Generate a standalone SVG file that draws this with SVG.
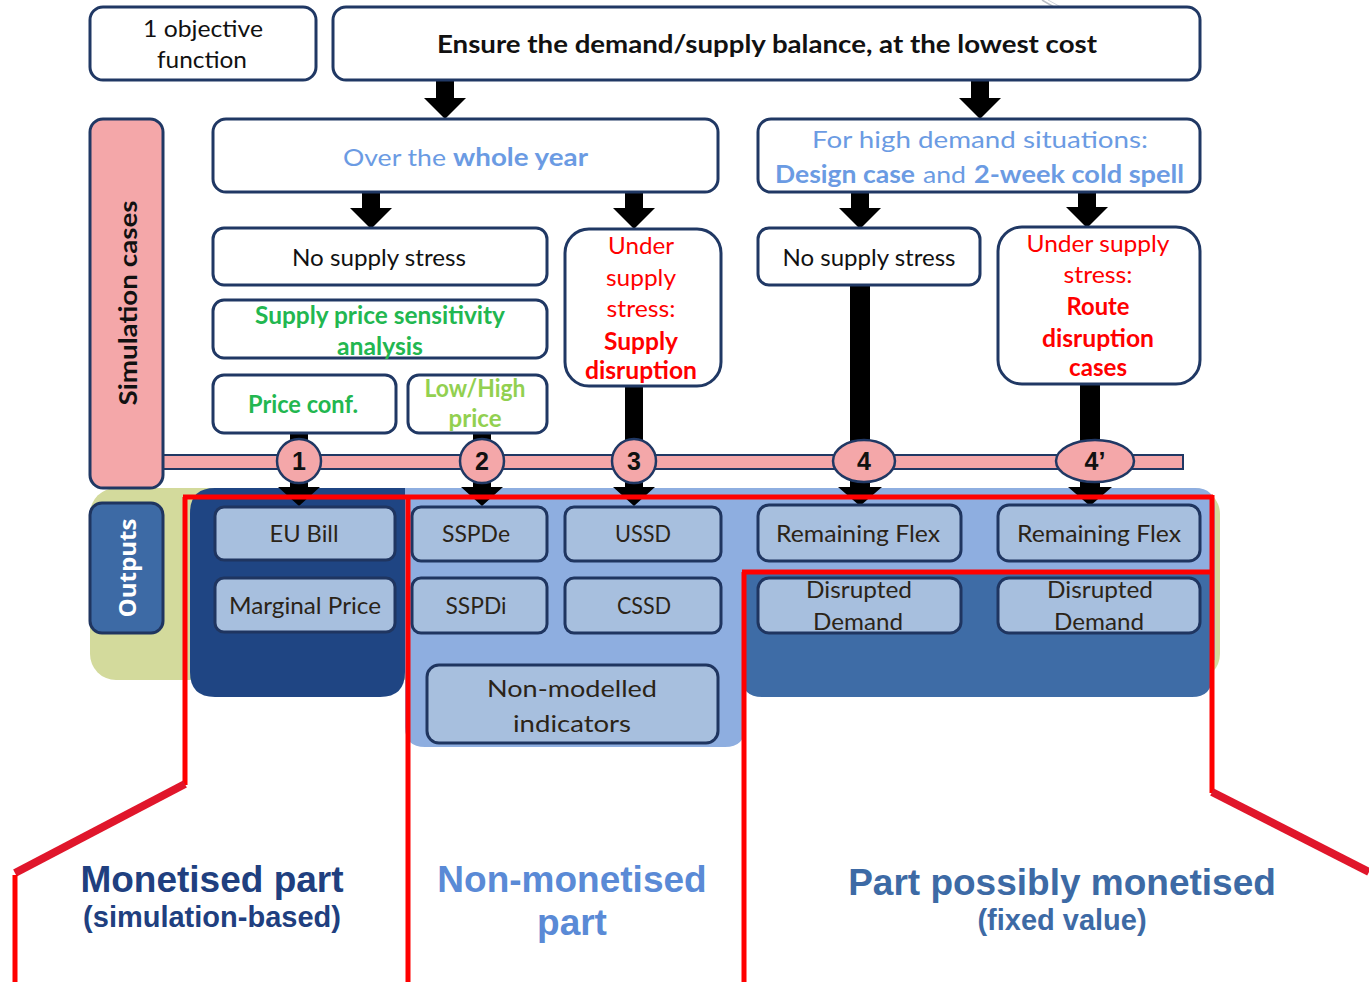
<svg xmlns="http://www.w3.org/2000/svg" width="1369" height="993" viewBox="0 0 1369 993">
<defs>
<style>
.box{fill:#ffffff;stroke:#203864;stroke-width:3}
.ob{fill:#a7bfde;stroke:#1f3560;stroke-width:3}
.t{font-family:Lato,"Open Sans",sans-serif;font-size:24px;fill:#111;text-anchor:middle}
.ot{font-family:Lato,"Open Sans",sans-serif;font-size:24px;fill:#2b2418;text-anchor:middle}
.s{text-anchor:start}
.e{text-anchor:end}
.b{font-weight:bold}
.blue{fill:#6b9be3}
.green{fill:#22b750}
.lgreen{fill:#92d050}
.red{fill:#ff0000}
.num{font-family:"Liberation Sans",Arial,sans-serif;font-size:25px;font-weight:bold;fill:#111;text-anchor:middle}
.arr{fill:#000}
.circ{fill:#f4a7a9;stroke:#203864;stroke-width:2.5}
.rl{fill:none;stroke:#ff0000;stroke-width:5}
.rd{fill:none;stroke:#e0162b;stroke-width:8}
.big{font-family:"Liberation Sans",Arial,sans-serif;font-weight:bold;text-anchor:middle}
</style>
</defs>

<!-- faint artifact lines -->
<line x1="1042" y1="0" x2="1066" y2="14" stroke="#b8bcc4" stroke-width="1.5"/>
<line x1="1048" y1="0" x2="1070" y2="12" stroke="#cfd3da" stroke-width="1"/>

<!-- output backgrounds -->
<g id="output-background">
<rect x="90" y="488" width="1130" height="192" rx="26" fill="#d3da9c"/>
<path d="M405 488 H1195 Q1215 488 1215 508 V660 H745 V727 Q745 747 725 747 H425 Q405 747 405 727 Z" fill="#8eaee0"/>
<path d="M742 570 H1212 V677 Q1212 697 1192 697 H762 Q742 697 742 677 Z" fill="#3e6ca6"/>
<path d="M215 488 H405 V672 Q405 697 380 697 H215 Q190 697 190 672 V513 Q190 488 215 488 Z" fill="#1f4583"/>
</g>

<!-- connectors -->
<g id="connectors">
<path class="arr" d="M436 80 H454 V98 H466 L445 119 L424 98 H436 Z"/>
<path class="arr" d="M971 80 H989 V98 H1001 L980 119 L959 98 H971 Z"/>
<path class="arr" d="M362 192 H380 V208 H392 L371 229 L350 208 H362 Z"/>
<path class="arr" d="M625 192 H643 V208 H655 L634 229 L613 208 H625 Z"/>
<path class="arr" d="M851 192 H869 V208 H881 L860 229 L839 208 H851 Z"/>
<path class="arr" d="M1078 192 H1096 V207 H1108 L1087 228 L1066 207 H1078 Z"/>
<path class="arr" d="M290 433 H308 V487 H320 L299 506 L278 487 H290 Z"/>
<path class="arr" d="M473 433 H491 V487 H503 L482 506 L461 487 H473 Z"/>
<path class="arr" d="M625 386 H643 V487 H655 L634 506 L613 487 H625 Z"/>
<path class="arr" d="M850 285 H870 V487 H882 L860 506 L838 487 H850 Z"/>
<path class="arr" d="M1080 384 H1100 V487 H1112 L1090 506 L1068 487 H1080 Z"/>
</g>

<!-- pink bar -->
<g id="timeline">
<rect x="160" y="455" width="1023" height="14" fill="#f4a7a9" stroke="#203864" stroke-width="2"/>
</g>

<g id="sim-cases">
<rect x="90" y="119" width="73" height="369" rx="13" fill="#f4a7a9" stroke="#203864" stroke-width="3"/>
<text class="t b" transform="translate(137,303) rotate(-90)" font-size="25" textLength="205" lengthAdjust="spacingAndGlyphs">Simulation cases</text>
</g>

<g id="circles">
<circle class="circ" cx="299" cy="461" r="22"/><text class="num" x="299" y="470">1</text>
<circle class="circ" cx="482" cy="461" r="22"/><text class="num" x="482" y="470">2</text>
<circle class="circ" cx="634" cy="461" r="22"/><text class="num" x="634" y="470">3</text>
<ellipse class="circ" cx="864" cy="461" rx="31" ry="21"/><text class="num" x="864" y="470">4</text>
<ellipse class="circ" cx="1095" cy="461" rx="39" ry="21"/><text class="num" x="1095" y="470">4’</text>
</g>

<g id="objective">
<rect class="box" x="90" y="7" width="226" height="73" rx="13"/>
<text class="t" x="203" y="37" textLength="120" lengthAdjust="spacingAndGlyphs">1 objective</text>
<text class="t" x="202" y="68" textLength="90" lengthAdjust="spacingAndGlyphs">function</text>
</g>

<g id="ensure">
<rect class="box" x="333" y="7" width="867" height="73" rx="13"/>
<text class="t b" x="767" y="53" font-size="25" textLength="660" lengthAdjust="spacingAndGlyphs">Ensure the demand/supply balance, at the lowest cost</text>
</g>

<g id="whole-year">
<rect class="box" x="213" y="119" width="505" height="73" rx="13"/>
<text class="t s blue" x="343" y="166" font-size="28" textLength="103" lengthAdjust="spacingAndGlyphs">Over the</text>
<text class="t e blue b" x="588" y="166" font-size="28" textLength="135" lengthAdjust="spacingAndGlyphs">whole year</text>
</g>

<g id="high-demand">
<rect class="box" x="758" y="119" width="442" height="73" rx="13"/>
<text class="t blue" x="980" y="148" font-size="28" textLength="336" lengthAdjust="spacingAndGlyphs">For high demand situations:</text>
<text class="t s blue b" x="775" y="183" font-size="28" textLength="140" lengthAdjust="spacingAndGlyphs">Design case</text>
<text class="t s blue" x="923" y="183" font-size="28" textLength="43" lengthAdjust="spacingAndGlyphs">and</text>
<text class="t s blue b" x="974" y="183" font-size="28" textLength="210" lengthAdjust="spacingAndGlyphs">2-week cold spell</text>
</g>

<g id="no-stress-1">
<rect class="box" x="213" y="228" width="334" height="57" rx="11"/>
<text class="t" x="379" y="266" textLength="174" lengthAdjust="spacingAndGlyphs">No supply stress</text>
</g>

<g id="sensitivity">
<rect class="box" x="213" y="300" width="334" height="58" rx="11"/>
<text class="t b green" x="380" y="324" textLength="250" lengthAdjust="spacingAndGlyphs">Supply price sensitivity</text>
<text class="t b green" x="380" y="355" textLength="86" lengthAdjust="spacingAndGlyphs">analysis</text>
</g>

<g id="price-conf">
<rect class="box" x="213" y="375" width="183" height="58" rx="11"/>
<text class="t b green" x="303" y="413" textLength="110" lengthAdjust="spacingAndGlyphs">Price conf.</text>
</g>

<g id="low-high">
<rect class="box" x="408" y="375" width="139" height="58" rx="11"/>
<text class="t b lgreen" x="475" y="397" textLength="101" lengthAdjust="spacingAndGlyphs">Low/High</text>
<text class="t b lgreen" x="475" y="427" textLength="53" lengthAdjust="spacingAndGlyphs">price</text>
</g>

<g id="supply-disruption">
<rect class="box" x="565" y="229" width="156" height="157" rx="24"/>
<text class="t red" x="641" y="254" textLength="66" lengthAdjust="spacingAndGlyphs">Under</text>
<text class="t red" x="641" y="286" textLength="70" lengthAdjust="spacingAndGlyphs">supply</text>
<text class="t red" x="641" y="317" textLength="69" lengthAdjust="spacingAndGlyphs">stress:</text>
<text class="t b red" x="641" y="350" textLength="74" lengthAdjust="spacingAndGlyphs">Supply</text>
<text class="t b red" x="641" y="379" textLength="112" lengthAdjust="spacingAndGlyphs">disruption</text>
</g>

<g id="no-stress-2">
<rect class="box" x="758" y="228" width="222" height="57" rx="11"/>
<text class="t" x="869" y="266" textLength="173" lengthAdjust="spacingAndGlyphs">No supply stress</text>
</g>

<g id="route-disruption">
<rect class="box" x="998" y="227" width="202" height="157" rx="24"/>
<text class="t red" x="1098" y="252" textLength="143" lengthAdjust="spacingAndGlyphs">Under supply</text>
<text class="t red" x="1098" y="283" textLength="69" lengthAdjust="spacingAndGlyphs">stress:</text>
<text class="t b red" x="1098" y="315" textLength="63" lengthAdjust="spacingAndGlyphs">Route</text>
<text class="t b red" x="1098" y="347" textLength="112" lengthAdjust="spacingAndGlyphs">disruption</text>
<text class="t b red" x="1098" y="376" textLength="58" lengthAdjust="spacingAndGlyphs">cases</text>
</g>

<g id="outputs-label">
<rect x="90" y="503" width="73" height="130" rx="12" fill="#3d6aa5" stroke="#1f3560" stroke-width="3"/>
<text transform="translate(136,568) rotate(-90)" font-family="'Open Sans',Lato,sans-serif" font-size="23" font-weight="bold" fill="#ffffff" text-anchor="middle" textLength="99" lengthAdjust="spacingAndGlyphs">Outputs</text>
</g>

<g id="eu-bill"><rect class="ob" x="215" y="507" width="180" height="53" rx="9"/><text class="ot" x="304" y="542" textLength="69" lengthAdjust="spacingAndGlyphs">EU Bill</text></g>
<g id="marginal-price"><rect class="ob" x="215" y="578" width="180" height="54" rx="9"/><text class="ot" x="305" y="614" textLength="152" lengthAdjust="spacingAndGlyphs">Marginal Price</text></g>
<g id="sspde"><rect class="ob" x="412" y="507" width="135" height="54" rx="9"/><text class="ot" x="476" y="542" textLength="68" lengthAdjust="spacingAndGlyphs">SSPDe</text></g>
<g id="sspdi"><rect class="ob" x="412" y="578" width="135" height="55" rx="9"/><text class="ot" x="476" y="614" textLength="61" lengthAdjust="spacingAndGlyphs">SSPDi</text></g>
<g id="ussd"><rect class="ob" x="565" y="507" width="156" height="54" rx="9"/><text class="ot" x="643" y="542" textLength="56" lengthAdjust="spacingAndGlyphs">USSD</text></g>
<g id="cssd"><rect class="ob" x="565" y="578" width="156" height="55" rx="9"/><text class="ot" x="644" y="614" textLength="54" lengthAdjust="spacingAndGlyphs">CSSD</text></g>
<g id="non-modelled"><rect class="ob" x="427" y="665" width="291" height="78" rx="12"/><text class="ot" x="572" y="697" font-size="28" fill="#111" textLength="170" lengthAdjust="spacingAndGlyphs">Non-modelled</text><text class="ot" x="572" y="732" font-size="28" fill="#111" textLength="118" lengthAdjust="spacingAndGlyphs">indicators</text></g>
<g id="flex-1"><rect class="ob" x="758" y="505" width="203" height="56" rx="11"/><text class="ot" x="858" y="542" textLength="164" lengthAdjust="spacingAndGlyphs">Remaining Flex</text></g>
<g id="flex-2"><rect class="ob" x="998" y="505" width="202" height="56" rx="11"/><text class="ot" x="1099" y="542" textLength="164" lengthAdjust="spacingAndGlyphs">Remaining Flex</text></g>
<g id="disrupted-1"><rect class="ob" x="758" y="578" width="203" height="55" rx="11"/><text class="ot" x="859" y="598" textLength="106" lengthAdjust="spacingAndGlyphs">Disrupted</text><text class="ot" x="858" y="630" textLength="90" lengthAdjust="spacingAndGlyphs">Demand</text></g>
<g id="disrupted-2"><rect class="ob" x="998" y="578" width="202" height="55" rx="11"/><text class="ot" x="1100" y="598" textLength="106" lengthAdjust="spacingAndGlyphs">Disrupted</text><text class="ot" x="1099" y="630" textLength="90" lengthAdjust="spacingAndGlyphs">Demand</text></g>

<!-- red partition lines -->
<g id="partition">
<path class="rl" d="M183 497 H1213"/>
<path class="rl" d="M185 497 V785"/>
<path class="rd" d="M185 784 L15 873"/>
<path class="rl" d="M15 875 V982"/>
<path class="rl" d="M408 497 V982"/>
<path class="rl" d="M744 572 V982"/>
<path class="rl" d="M742 572 H1213"/>
<path class="rl" d="M1212 495 V793"/>
<path class="rd" d="M1212 792 L1369 872"/>
</g>

<g id="labels">
<text class="big" x="212" y="892" font-size="37" fill="#203f7f">Monetised part</text>
<text class="big" x="212" y="927" font-size="29" fill="#203f7f">(simulation-based)</text>
<text class="big" x="572" y="892" font-size="37" fill="#5a8ad6">Non-monetised</text>
<text class="big" x="572" y="935" font-size="37" fill="#5a8ad6">part</text>
<text class="big" x="1062" y="895" font-size="37" fill="#3d6aa5">Part possibly monetised</text>
<text class="big" x="1062" y="930" font-size="29" fill="#3d6aa5">(fixed value)</text>
</g>
</svg>
